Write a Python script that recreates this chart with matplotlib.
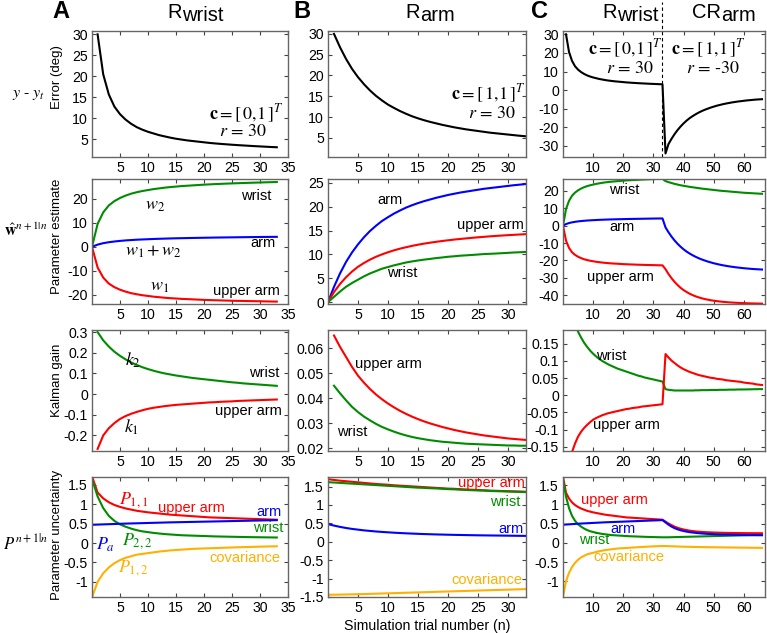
import numpy as np
import matplotlib
matplotlib.use('Agg')
import matplotlib.pyplot as plt

plt.rcParams['font.family'] = ['Liberation Sans', 'DejaVu Sans']
plt.rcParams['axes.unicode_minus'] = False
plt.rcParams['mathtext.fontset'] = 'stix'

# ---------------- data ----------------
# Column A : R_wrist, trials
err_A = [30.0, 20.5, 15.7, 12.8, 11.0, 9.7, 8.7, 7.9, 7.3, 6.8, 6.4, 6.0, 5.7, 5.4, 5.15,
         4.95, 4.75, 4.6, 4.45, 4.3, 4.15, 4.03, 3.92, 3.82, 3.72, 3.63, 3.55, 3.47, 3.39,
         3.32, 3.25, 3.18, 3.12]
wrist_A = [0, 9.5, 14.3, 17.2, 19.0, 20.3, 21.3, 22.1, 22.7, 23.2, 23.6, 24.0, 24.3, 24.6,
           24.85, 25.05, 25.25, 25.4, 25.55, 25.7, 25.85, 25.97, 26.08, 26.18, 26.28, 26.37,
           26.45, 26.53, 26.61, 26.68, 26.75, 26.82, 26.88, 26.94]
upper_A = [0, -8.6, -12.8, -15.3, -16.8, -17.85, -18.65, -19.3, -19.75, -20.15, -20.45,
           -20.75, -20.97, -21.2, -21.38, -21.52, -21.67, -21.77, -21.87, -21.98, -22.09,
           -22.17, -22.24, -22.31, -22.38, -22.44, -22.49, -22.54, -22.59, -22.63, -22.67,
           -22.72, -22.76, -22.8]
arm_A = [0, 0.9, 1.5, 1.9, 2.2, 2.45, 2.65, 2.8, 2.95, 3.05, 3.15, 3.25, 3.33, 3.4, 3.47,
         3.53, 3.58, 3.63, 3.68, 3.72, 3.76, 3.8, 3.84, 3.87, 3.9, 3.93, 3.96, 3.99, 4.02,
         4.05, 4.08, 4.1, 4.12, 4.14]
k_wrist_A = [0.30, 0.26, 0.23, 0.205, 0.185, 0.168, 0.153, 0.141, 0.130, 0.121, 0.113,
             0.106, 0.100, 0.095, 0.090, 0.086, 0.082, 0.078, 0.075, 0.072, 0.069, 0.066,
             0.063, 0.060, 0.057, 0.055, 0.052, 0.050, 0.048, 0.046, 0.044, 0.042, 0.040]
k_upper_A = [-0.265, -0.2, -0.165, -0.14, -0.12, -0.106, -0.095, -0.086, -0.078, -0.071,
             -0.066, -0.062, -0.058, -0.055, -0.052, -0.05, -0.048, -0.046, -0.044, -0.042,
             -0.040, -0.039, -0.037, -0.036, -0.035, -0.033, -0.032, -0.031, -0.030,
             -0.029, -0.028, -0.027, -0.026]
P11_A = [1.72, 1.3, 1.15, 1.05, 0.98, 0.93, 0.89, 0.86, 0.83, 0.81, 0.79, 0.775, 0.76,
         0.745, 0.73, 0.72, 0.71, 0.70, 0.69, 0.68, 0.67, 0.66, 0.655, 0.65, 0.645, 0.64,
         0.635, 0.63, 0.625, 0.62, 0.615, 0.61, 0.605, 0.60]
P22_A = [1.65, 1.2, 0.9, 0.7, 0.57, 0.48, 0.42, 0.37, 0.33, 0.3, 0.28, 0.26, 0.245, 0.23,
         0.22, 0.21, 0.2, 0.195, 0.19, 0.185, 0.18, 0.175, 0.17, 0.167, 0.164, 0.161, 0.158,
         0.155, 0.152, 0.15, 0.148, 0.146, 0.144, 0.142]
P12_A = [-1.4, -1.0, -0.78, -0.63, -0.52, -0.44, -0.38, -0.34, -0.3, -0.28, -0.26, -0.24,
         -0.22, -0.205, -0.19, -0.18, -0.17, -0.16, -0.15, -0.145, -0.14, -0.135, -0.13,
         -0.125, -0.12, -0.115, -0.11, -0.106, -0.102, -0.098, -0.094, -0.09, -0.087, -0.084]
Pa_A = [0.47, 0.475, 0.48, 0.485, 0.49, 0.495, 0.5, 0.504, 0.508, 0.512, 0.516, 0.52, 0.524,
        0.528, 0.532, 0.535, 0.538, 0.541, 0.544, 0.547, 0.55, 0.553, 0.556, 0.559, 0.562,
        0.565, 0.568, 0.571, 0.574, 0.577, 0.58, 0.583, 0.586, 0.589]

# Column B : R_arm
err_B = [30, 26.8, 24.0, 21.6, 19.6, 17.9, 16.4, 15.1, 14.0, 13.0, 12.2, 11.45, 10.8, 10.2,
         9.7, 9.25, 8.85, 8.5, 8.15, 7.85, 7.55, 7.3, 7.05, 6.85, 6.65, 6.45, 6.25, 6.1,
         5.95, 5.8, 5.65, 5.5, 5.38]
arm_B = [0, 3.2, 6.0, 8.4, 10.4, 12.1, 13.6, 14.9, 16.0, 17.0, 17.8, 18.55, 19.2, 19.8,
         20.3, 20.75, 21.15, 21.5, 21.85, 22.15, 22.45, 22.7, 22.95, 23.15, 23.35, 23.55,
         23.75, 23.9, 24.05, 24.2, 24.35, 24.5, 24.62, 24.75]
upper_B = [0, 2.1, 3.8, 5.2, 6.4, 7.4, 8.2, 8.9, 9.5, 10.0, 10.45, 10.85, 11.2, 11.5, 11.78,
           12.03, 12.25, 12.45, 12.63, 12.8, 12.95, 13.1, 13.23, 13.35, 13.47, 13.58, 13.68,
           13.78, 13.87, 13.95, 14.03, 14.1, 14.17, 14.24]
wrist_B = [0, 1.1, 2.2, 3.2, 4.0, 4.7, 5.4, 6.0, 6.5, 7.0, 7.35, 7.7, 8.0, 8.3, 8.52, 8.72,
           8.9, 9.05, 9.22, 9.35, 9.5, 9.6, 9.72, 9.8, 9.88, 9.97, 10.07, 10.12, 10.18,
           10.25, 10.32, 10.4, 10.45, 10.51]
k_upper_B = [0.065, 0.0605, 0.0565, 0.0525, 0.049, 0.0462, 0.0437, 0.0415, 0.0396, 0.0379,
             0.0364, 0.035, 0.0338, 0.0327, 0.0317, 0.0308, 0.03, 0.0293, 0.0286, 0.028,
             0.0274, 0.0269, 0.0264, 0.026, 0.0256, 0.0252, 0.0249, 0.0246, 0.0243, 0.024,
             0.0238, 0.0236, 0.0234]
k_wrist_B = [0.045, 0.042, 0.0392, 0.0366, 0.0345, 0.0327, 0.0312, 0.0298, 0.0286, 0.0276,
             0.0267, 0.0259, 0.0252, 0.0246, 0.0241, 0.0237, 0.0233, 0.023, 0.0227, 0.0225,
             0.0223, 0.0221, 0.0219, 0.0218, 0.0217, 0.0216, 0.0215, 0.0214, 0.0213, 0.0212,
             0.0212, 0.0211, 0.0211]
P11_B = [1.70, 1.68, 1.66, 1.645, 1.63, 1.615, 1.60, 1.585, 1.57, 1.56, 1.55, 1.535, 1.525,
         1.515, 1.505, 1.495, 1.485, 1.475, 1.465, 1.455, 1.445, 1.44, 1.43, 1.42, 1.415,
         1.405, 1.40, 1.39, 1.385, 1.38, 1.375, 1.37, 1.365, 1.36]
P22_B = [1.62, 1.61, 1.6, 1.59, 1.58, 1.57, 1.56, 1.55, 1.54, 1.53, 1.52, 1.51, 1.5, 1.49,
         1.48, 1.47, 1.465, 1.455, 1.45, 1.44, 1.43, 1.425, 1.415, 1.41, 1.40, 1.395, 1.39,
         1.38, 1.375, 1.37, 1.365, 1.36, 1.355, 1.35]
Pa_B = [0.48, 0.44, 0.405, 0.375, 0.35, 0.33, 0.31, 0.295, 0.28, 0.268, 0.257, 0.247, 0.238,
        0.23, 0.223, 0.216, 0.21, 0.205, 0.2, 0.196, 0.192, 0.188, 0.185, 0.182, 0.179,
        0.176, 0.174, 0.172, 0.17, 0.168, 0.166, 0.164, 0.162, 0.16]
P12_B = [-1.44, -1.438, -1.435, -1.432, -1.428, -1.424, -1.42, -1.415, -1.41, -1.405, -1.4,
         -1.395, -1.39, -1.385, -1.38, -1.375, -1.37, -1.365, -1.36, -1.355, -1.35, -1.345,
         -1.34, -1.335, -1.33, -1.325, -1.32, -1.315, -1.31, -1.305, -1.3, -1.295, -1.29,
         -1.285]

# Column C : second block (trials 34..66, CR_arm), first block is identical to column A
err_C2 = [-34.1, -29.0, -26.2, -23.7, -21.5, -19.6, -17.9, -16.4, -15.1, -14.0, -13.0,
          -12.1, -11.3, -10.6, -10.0, -9.4, -8.9, -8.4, -8.0, -7.6, -7.25, -6.95, -6.65,
          -6.4, -6.15, -5.95, -5.75, -5.55, -5.4, -5.25, -5.1, -5.0, -4.9]
arm_C2 = [-1.0, -3.8, -6.3, -8.5, -10.4, -12.1, -13.6, -14.9, -16.0, -17.0, -17.9, -18.7,
          -19.4, -20.0, -20.6, -21.1, -21.6, -22.0, -22.4, -22.75, -23.05, -23.35, -23.6,
          -23.85, -24.05, -24.25, -24.45, -24.6, -24.75, -24.9, -25.0, -25.1, -25.2]
upper_C2 = [-25.0, -27.8, -30.2, -32.3, -34.1, -35.7, -37.0, -38.1, -39.1, -39.9, -40.6,
            -41.2, -41.7, -42.15, -42.5, -42.85, -43.1, -43.35, -43.55, -43.75, -43.9,
            -44.05, -44.15, -44.25, -44.35, -44.43, -44.5, -44.56, -44.62, -44.67, -44.71,
            -44.75, -44.78]
wrist_C2 = [25.6, 25.0, 24.5, 24.0, 23.6, 23.2, 22.9, 22.6, 22.3, 22.05, 21.8, 21.55, 21.3,
            21.1, 20.9, 20.7, 20.5, 20.3, 20.1, 19.95, 19.8, 19.65, 19.5, 19.35, 19.2, 19.05,
            18.9, 18.8, 18.7, 18.6, 18.5, 18.4, 18.3]
k_upper_C2 = [0.12, 0.11, 0.101, 0.094, 0.087, 0.081, 0.076, 0.072, 0.068, 0.065, 0.062,
              0.059, 0.057, 0.055, 0.053, 0.051, 0.05, 0.048, 0.047, 0.046, 0.044, 0.043,
              0.042, 0.041, 0.04, 0.039, 0.037, 0.036, 0.035, 0.034, 0.032, 0.031, 0.03]
k_wrist_C2 = [0.018, 0.016, 0.015, 0.014, 0.014, 0.014, 0.014, 0.014, 0.014, 0.014, 0.0145,
              0.0145, 0.015, 0.015, 0.015, 0.0155, 0.0155, 0.0155, 0.016, 0.016, 0.016,
              0.0165, 0.0165, 0.0165, 0.017, 0.017, 0.017, 0.0172, 0.0174, 0.0176, 0.0178,
              0.018, 0.018]
P11_C2 = [0.55, 0.5, 0.46, 0.42, 0.39, 0.365, 0.345, 0.33, 0.315, 0.305, 0.295, 0.288, 0.282,
          0.277, 0.273, 0.27, 0.267, 0.264, 0.262, 0.26, 0.258, 0.256, 0.255, 0.254, 0.253,
          0.252, 0.251, 0.25, 0.25, 0.249, 0.249, 0.248, 0.248]
Pa_C2 = [0.53, 0.47, 0.42, 0.38, 0.35, 0.325, 0.305, 0.29, 0.277, 0.266, 0.257, 0.249, 0.242,
         0.236, 0.231, 0.227, 0.223, 0.22, 0.217, 0.214, 0.212, 0.21, 0.208, 0.206, 0.204,
         0.203, 0.202, 0.201, 0.2, 0.199, 0.198, 0.197, 0.196]
P22_C2 = [0.142, 0.143, 0.145, 0.147, 0.149, 0.151, 0.153, 0.155, 0.157, 0.159, 0.161, 0.163,
          0.165, 0.167, 0.169, 0.171, 0.173, 0.175, 0.177, 0.179, 0.181, 0.183, 0.185, 0.187,
          0.189, 0.191, 0.193, 0.195, 0.197, 0.199, 0.2, 0.201, 0.202]
P12_C2 = [-0.085, -0.088, -0.091, -0.094, -0.097, -0.1, -0.102, -0.104, -0.106, -0.108,
          -0.11, -0.112, -0.113, -0.114, -0.115, -0.116, -0.117, -0.118, -0.119, -0.12,
          -0.121, -0.122, -0.123, -0.124, -0.125, -0.126, -0.127, -0.128, -0.129, -0.13,
          -0.131, -0.132, -0.133]

xticks_A = [5, 10, 15, 20, 25, 30, 35]
xticks_B = [5, 10, 15, 20, 25, 30]
xticks_C = [10, 20, 30, 40, 50, 60]

# ---------------- figure ----------------
W, H = 767, 633
fig = plt.figure(figsize=(W / 100, H / 100), dpi=100)

RED, GREEN, BLUE, ORANGE = '#ff0000', '#008c00', '#0000ff', '#ffb000'
LW = 1.5
cols = [(92, 288), (328, 526), (563, 765)]
rows = [(31, 157), (179, 304), (330, 451), (477, 597)]
YLX = -0.148
YLS = 9.5
TLS = 10.2


def fmt(v, pos=None):
    return '%g' % round(v, 6)


def make_ax(r, c, xlim, xticks, ylim, yticks):
    x0, x1 = cols[c]
    y0, y1 = rows[r]
    ax = fig.add_axes([x0 / W, 1 - y1 / H, (x1 - x0) / W, (y1 - y0) / H])
    ax.set_xlim(*xlim)
    ax.set_ylim(*ylim)
    ax.set_xticks(xticks)
    ax.set_yticks(yticks)
    ax.xaxis.set_major_formatter(plt.FuncFormatter(fmt))
    ax.yaxis.set_major_formatter(plt.FuncFormatter(fmt))
    ax.tick_params(direction='in', top=True, right=True, length=3, width=0.8,
                   labelsize=TLS, pad=3, color='#444444')
    for s in ax.spines.values():
        s.set_color('#666666')
        s.set_linewidth(1.0)
    return ax


def lab(ax, x, y, s, color, **kw):
    ax.text(x, y, s, color=color, ha='center', va='center', fontsize=10.5, **kw)


def mlab(ax, x, y, s, color):
    ax.text(x, y, s, color=color, ha='center', va='center', fontsize=13,
            math_fontfamily='stix')


nA1 = np.arange(1, len(err_A) + 1)
nA0 = np.arange(0, len(wrist_A))
nB1 = np.arange(1, len(err_B) + 1)
nB0 = np.arange(0, len(arm_B))
err_C = err_A + err_C2
nC1 = np.arange(1, len(err_C) + 1)
nC0 = np.arange(0, len(wrist_A) + len(wrist_C2))

xlA, xlB, xlC = (0, 35), (0, 33), (0, 67)

# Row 1 : error
ax = make_ax(0, 0, xlA, xticks_A, (0.8, 30.8), [5, 10, 15, 20, 25, 30])
ax0 = ax
ax.plot(nA1, err_A, color='k', lw=LW)
ax.set_ylabel('Error (deg)', fontsize=YLS)
ax.yaxis.set_label_coords(YLX, 0.635)
ax.text(0.785, 0.34, r'$\mathbf{c} = \left[\,0{,}1\,\right]^{T}$', transform=ax.transAxes,
        ha='center', va='center', fontsize=13, math_fontfamily='stix')
ax.text(0.77, 0.2, r'$r$ = 30', transform=ax.transAxes, ha='center', va='center',
        fontsize=13, family='STIXGeneral')

ax = make_ax(0, 1, xlB, xticks_B, (0.4, 30.7), [5, 10, 15, 20, 25, 30])
ax.plot(nB1, err_B, color='k', lw=LW)
ax.text(0.81, 0.5, r'$\mathbf{c} = \left[\,1{,}1\,\right]^{T}$', transform=ax.transAxes,
        ha='center', va='center', fontsize=13, math_fontfamily='stix')
ax.text(0.83, 0.34, r'$r$ = 30', transform=ax.transAxes, ha='center', va='center',
        fontsize=13, family='STIXGeneral')

ax = make_ax(0, 2, xlC, xticks_C, (-36, 31.8), [-30, -20, -10, 0, 10, 20, 30])
ax.plot(nC1, err_C, color='k', lw=LW)
ax.axvline(33, ymin=0, ymax=1.23, color='k', lw=0.8, ls=(0, (3, 2.5)), clip_on=False)
ax.text(0.31, 0.86, r'$\mathbf{c} = \left[\,0{,}1\,\right]^{T}$', transform=ax.transAxes,
        ha='center', va='center', fontsize=13, math_fontfamily='stix')
ax.text(0.33, 0.7, r'$r$ = 30', transform=ax.transAxes, ha='center', va='center',
        fontsize=13, family='STIXGeneral')
ax.text(0.72, 0.86, r'$\mathbf{c} = \left[\,1{,}1\,\right]^{T}$', transform=ax.transAxes,
        ha='center', va='center', fontsize=13, math_fontfamily='stix')
ax.text(0.74, 0.7, r'$r$ = -30', transform=ax.transAxes, ha='center', va='center',
        fontsize=13, family='STIXGeneral')

# Row 2 : parameter estimates
ax = make_ax(1, 0, xlA, xticks_A, (-23.8, 28.2), [-20, -10, 0, 10, 20])
ax.plot(nA0, wrist_A, color=GREEN, lw=LW)
ax.plot(nA0, arm_A, color=BLUE, lw=LW)
ax.plot(nA0, upper_A, color=RED, lw=LW)
ax.set_ylabel('Parameter estimate', fontsize=YLS)
ax.yaxis.set_label_coords(YLX, 0.544)
mlab(ax, 11.2, 17, r'$w_2$', 'k')
mlab(ax, 11, -1.8, r'$w_1 + w_2$', 'k')
mlab(ax, 12.1, -16.5, r'$w_1$', 'k')
lab(ax, 29.3, 21.1, 'wrist', 'k')
lab(ax, 30.5, 1.5, 'arm', 'k')
lab(ax, 27.6, -18.3, 'upper arm', 'k')

ax = make_ax(1, 1, xlB, xticks_B, (-0.4, 25.8), [0, 5, 10, 15, 20, 25])
ax.plot(nB0, arm_B, color=BLUE, lw=LW)
ax.plot(nB0, upper_B, color=RED, lw=LW)
ax.plot(nB0, wrist_B, color=GREEN, lw=LW)
lab(ax, 10.3, 21.5, 'arm', 'k')
lab(ax, 27.0, 16.1, 'upper arm', 'k')
lab(ax, 12.3, 6.0, 'wrist', 'k')

ax = make_ax(1, 2, xlC, xticks_C, (-45, 26.8), [-40, -30, -20, -10, 0, 10, 20])
ax.plot(nC0, wrist_A + wrist_C2, color=GREEN, lw=LW)
ax.plot(nC0, arm_A + arm_C2, color=BLUE, lw=LW)
ax.plot(nC0, upper_A + upper_C2, color=RED, lw=LW)
lab(ax, 20.2, 20.5, 'wrist', 'k')
lab(ax, 19.5, -0.6, 'arm', 'k')
lab(ax, 19.0, -29.3, 'upper arm', 'k')

# Row 3 : Kalman gain
ax = make_ax(2, 0, xlA, xticks_A, (-0.275, 0.31), [-0.2, -0.1, 0, 0.1, 0.2, 0.3])
ax.plot(nA1, k_wrist_A, color=GREEN, lw=LW)
ax.plot(nA1, k_upper_A, color=RED, lw=LW)
ax.set_ylabel('Kalman gain', fontsize=YLS)
ax.yaxis.set_label_coords(YLX, 0.587)
mlab(ax, 7.3, 0.164, r'$k_2$', 'k')
mlab(ax, 7.0, -0.16, r'$k_1$', 'k')
lab(ax, 30.7, 0.1, 'wrist', 'k')
lab(ax, 28.0, -0.08, 'upper arm', 'k')

ax = make_ax(2, 1, xlB, xticks_B, (0.019, 0.0672), [0.02, 0.03, 0.04, 0.05, 0.06])
ax.plot(nB1, k_upper_B, color=RED, lw=LW)
ax.plot(nB1, k_wrist_B, color=GREEN, lw=LW)
lab(ax, 10.0, 0.0535, 'upper arm', 'k')
lab(ax, 4.0, 0.0265, 'wrist', 'k')

ax = make_ax(2, 2, xlC, xticks_C, (-0.162, 0.19),
             [-0.15, -0.1, -0.05, 0, 0.05, 0.1, 0.15])
ax.plot(nC1, k_wrist_A + k_wrist_C2, color=GREEN, lw=LW)
ax.plot(nC1, k_upper_A + k_upper_C2, color=RED, lw=LW)
lab(ax, 16.0, 0.113, 'wrist', 'k')
lab(ax, 21.0, -0.087, 'upper arm', 'k')

# Row 4 : parameter uncertainty
ax = make_ax(3, 0, xlA, xticks_A, (-1.39, 1.70), [-1, -0.5, 0, 0.5, 1, 1.5])
ax.plot(nA0, P11_A, color=RED, lw=LW)
ax.plot(nA0, P22_A, color=GREEN, lw=LW)
ax.plot(nA0, Pa_A, color=BLUE, lw=LW)
ax.plot(nA0, P12_A, color=ORANGE, lw=LW)
ax.set_ylabel('Parameter uncertainty', fontsize=YLS)
ax.yaxis.set_label_coords(YLX, 0.517)
mlab(ax, 7.5, 1.1, r'$P_{1,1}$', RED)
mlab(ax, 2.5, -0.05, r'$P_a$', BLUE)
mlab(ax, 8.0, 0.06, r'$P_{2,2}$', GREEN)
mlab(ax, 7.4, -0.64, r'$P_{1,2}$', ORANGE)
lab(ax, 17.7, 0.9, 'upper arm', RED)
lab(ax, 31.6, 0.81, 'arm', BLUE)
lab(ax, 31.4, 0.38, 'wrist', GREEN)
lab(ax, 27.3, -0.38, 'covariance', ORANGE)

ax = make_ax(3, 1, xlB, xticks_B, (-1.5, 1.76), [-1.5, -1, -0.5, 0, 0.5, 1, 1.5])
ax.plot(nB0, P11_B, color=RED, lw=LW)
ax.plot(nB0, P22_B, color=GREEN, lw=LW)
ax.plot(nB0, Pa_B, color=BLUE, lw=LW)
ax.plot(nB0, P12_B, color=ORANGE, lw=LW)
lab(ax, 27.2, 1.59, 'upper arm', RED)
lab(ax, 29.5, 1.09, 'wrist', GREEN)
lab(ax, 30.5, 0.36, 'arm', BLUE)
lab(ax, 26.5, -1.04, 'covariance', ORANGE)

ax = make_ax(3, 2, xlC, xticks_C, (-1.41, 1.71), [-1, -0.5, 0, 0.5, 1, 1.5])
ax.plot(nC0, P11_A + P11_C2, color=RED, lw=LW)
ax.plot(nC0, P22_A + P22_C2, color=GREEN, lw=LW)
ax.plot(nC0, Pa_A + Pa_C2, color=BLUE, lw=LW)
ax.plot(nC0, P12_A + P12_C2, color=ORANGE, lw=LW)
lab(ax, 17.0, 1.11, 'upper arm', RED)
lab(ax, 20.0, 0.37, 'arm', BLUE)
lab(ax, 10.3, 0.07, 'wrist', GREEN)
lab(ax, 22.0, -0.38, 'covariance', ORANGE)

fig.text(427 / W, 1 - 626 / H, 'Simulation trial number (n)', ha='center', va='center',
         fontsize=10.2)


# ---------------- titles and row labels ----------------
def ftext(x, y, s, **kw):
    return fig.text(x / W, 1 - y / H, s, **kw)


for x, s in [(61, 'A'), (302, 'B'), (540, 'C')]:
    ftext(x, 12, s, ha='center', va='center', fontsize=17, fontweight='bold')

for x, big, small in [(167, 'R', 'wrist'), (405, 'R', 'arm'), (602, 'R', 'wrist'),
                      (692, 'CR', 'arm')]:
    t = ftext(x, 18, big, ha='left', va='baseline', fontsize=14.5)
    ax0.annotate(small, xy=(1, 0), xycoords=t, xytext=(0.3, 0.5),
                 textcoords='offset points', ha='left', va='baseline',
                 fontsize=14.5, annotation_clip=False)

ftext(12, 95, r'$y$ - $y_t$', ha='left', va='center', fontsize=11.5, family='STIXGeneral')
ftext(4, 230, r'$\hat{\mathbf{w}}^{n+1|n}$', ha='left', va='center', fontsize=11.5,
      math_fontfamily='stix')
ftext(3, 542, r'$P^{n+1|n}$', ha='left', va='center', fontsize=12,
      math_fontfamily='stix')

fig.savefig('out.png', dpi=100)
